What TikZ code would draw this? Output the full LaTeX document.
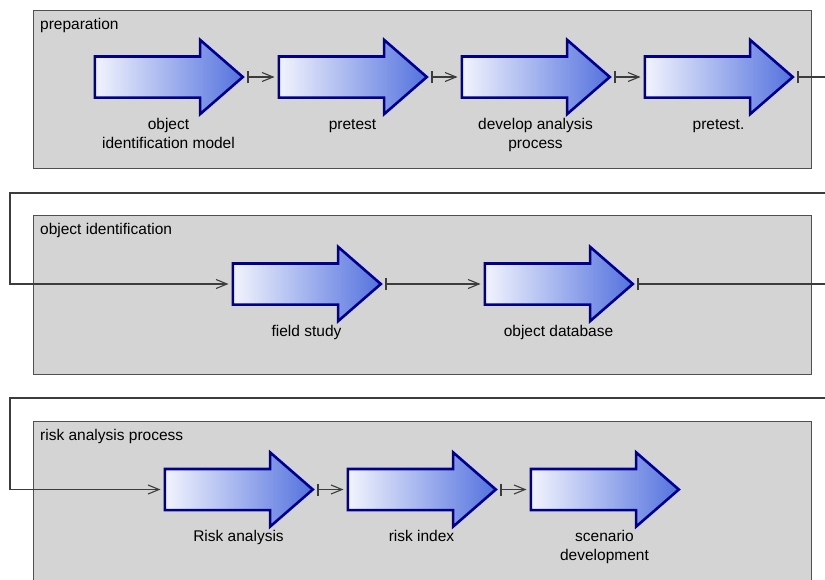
\documentclass[tikz,border=0pt]{standalone}
\usepackage{fontspec}
\setmainfont{Liberation Sans}
\usetikzlibrary{shapes.arrows,arrows.meta,calc}

\definecolor{panelfill}{RGB}{212,212,212}
\definecolor{panelline}{RGB}{80,80,80}
\definecolor{stepedge}{RGB}{0,0,140}
\definecolor{steplight}{RGB}{242,244,253}
\definecolor{stepdark}{RGB}{84,114,222}
\definecolor{flowline}{RGB}{60,60,60}

\begin{document}
\begin{tikzpicture}[x=1pt,y=-1pt,
  panel/.style={draw=panelline,fill=panelfill,line width=1pt},
  paneltitle/.style={anchor=base west,inner sep=0pt,font=\fontsize{15.5}{19}\selectfont},
  stepbox/.style={single arrow,anchor=tail,draw=stepedge,line width=2.6pt,
    left color=steplight,right color=stepdark,
    minimum height=148pt,inner xsep=0pt,inner ysep=19.25pt,
    single arrow head extend=16.5pt,single arrow tip angle=82,
    single arrow head indent=0pt},
  steplabel/.style={anchor=north,align=center,inner sep=0pt,
    font=\fontsize{15.5}{19}\selectfont},
  flow/.style={draw=flowline,line width=1.3pt},
  link/.style={flow,{Bar[width=12pt,line width=1.3pt]}-{Straight Barb[length=11pt,width=9pt,line width=1.1pt]},
    shorten <=2.5pt,shorten >=3pt}
]
\clip (0,0) rectangle (825,579);
\fill[white] (0,0) rectangle (825,579);

% phase panels
\draw[panel] (33,10) rectangle (811,168);
\draw[panel] (33,215) rectangle (811,374);
\draw[panel] (33,421) rectangle (811,600);

\node[paneltitle] (t1) at (40,29) {preparation};
\node[paneltitle] (t2) at (40,234) {object identification};
\node[paneltitle] (t3) at (40,440) {risk analysis process};

% steps, placed by their tails
\node[stepbox] (s1) at (93.5,77) {};
\node[stepbox] (s2) at (277.5,77) {};
\node[stepbox] (s3) at (460.5,77) {};
\node[stepbox] (s4) at (643.5,77) {};
\node[stepbox] (s5) at (231.5,284) {};
\node[stepbox] (s6) at (483.5,284) {};
\node[stepbox] (s7) at (163.5,489.5) {};
\node[stepbox] (s8) at (346.5,489.5) {};
\node[stepbox] (s9) at (529.5,489.5) {};

% step captions, centred under each step
\node[steplabel] (l1) at ($(s1.tail)+(75,38.7)$) {\strut object\\identification model};
\node[steplabel] (l2) at ($(s2.tail)+(75,38.7)$) {\strut pretest};
\node[steplabel] (l3) at ($(s3.tail)+(75,38.7)$) {\strut develop analysis\\process};
\node[steplabel] (l4) at ($(s4.tail)+(75,38.7)$) {\strut pretest.};
\node[steplabel] (l5) at ($(s5.tail)+(75,38.7)$) {\strut field study};
\node[steplabel] (l6) at ($(s6.tail)+(75,38.7)$) {\strut object database};
\node[steplabel] (l7) at ($(s7.tail)+(75,38.7)$) {\strut Risk analysis};
\node[steplabel] (l8) at ($(s8.tail)+(75,38.7)$) {\strut risk index};
\node[steplabel] (l9) at ($(s9.tail)+(75,38.7)$) {\strut scenario\\development};

% turning points of the row-to-row flows
\coordinate (e1) at (835,77);
\coordinate (w1) at (10,193);
\coordinate (e2) at (835,284);
\coordinate (w2) at (10,398);

% flows
\draw[link] (s1.tip) -- (s2.tail);
\draw[link] (s2.tip) -- (s3.tail);
\draw[link] (s3.tip) -- (s4.tail);
\draw[link] (s4.tip) -- (e1) |- (w1) |- (s5.tail);
\draw[link] (s5.tip) -- (s6.tail);
\draw[link] (s6.tip) -- (e2) |- (w2) |- (s7.tail);
\draw[link] (s7.tip) -- (s8.tail);
\draw[link] (s8.tip) -- (s9.tail);
\end{tikzpicture}
\end{document}
